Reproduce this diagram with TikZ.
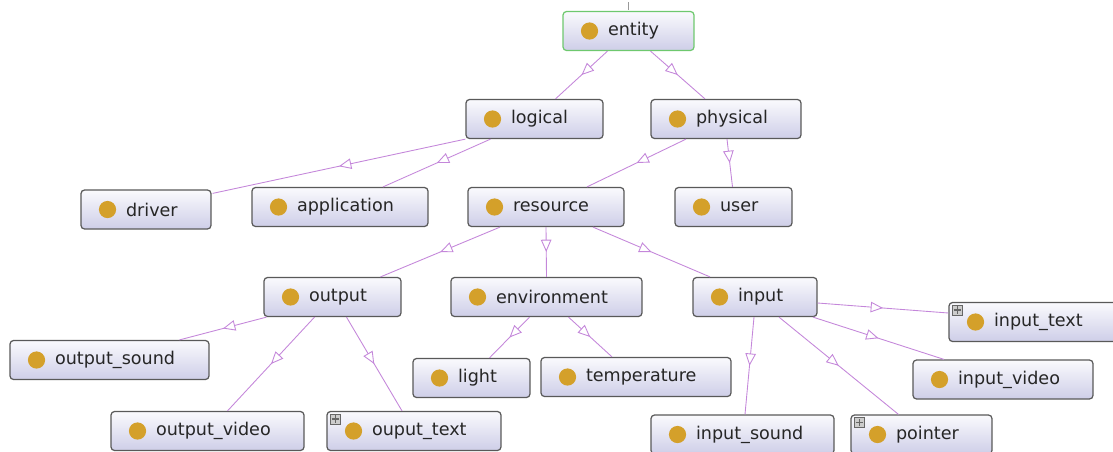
\documentclass[tikz,border=0pt]{standalone}
\usepackage{fontspec}
\setmainfont{DejaVu Sans}
\usetikzlibrary{arrows.meta, calc, decorations.markings}
\definecolor{dotc}{RGB}{212,160,42}
\definecolor{edgec}{RGB}{196,135,218}
\definecolor{boxtop}{RGB}{250,250,253}
\definecolor{boxbot}{RGB}{206,206,232}
\definecolor{entc}{RGB}{110,200,110}
\tikzset{cls/.style={rectangle,draw=black!65,line width=0.7pt,rounded corners=2pt,top color=boxtop,bottom color=boxbot,text width=#1,align=left,inner xsep=0.36cm,inner ysep=0pt,minimum height=0.78cm,text=black!85,execute at begin node=\hspace*{0.54cm},path picture={\fill[dotc] ([xshift=0.53cm]path picture bounding box.west) circle (4.9pt);}},plusbox/.style={rectangle,draw=black!60,fill=black!20,minimum size=0.2cm,inner sep=0pt,path picture={\draw[line width=0.8pt] ([xshift=-2.2pt]path picture bounding box.center) -- ([xshift=2.2pt]path picture bounding box.center); \draw[line width=0.8pt] ([yshift=-2.2pt]path picture bounding box.center) -- ([yshift=2.2pt]path picture bounding box.center);}},line/.style={draw=edgec,line width=0.5pt,postaction={decorate},decoration={markings,mark=at position 0.5 with {\arrow{Triangle[fill=white,length=7pt,width=6pt]}}}}}

\begin{document}
\begin{tikzpicture}[x=0.02cm,y=-0.02cm,font=\fontsize{10}{12}\selectfont]
\useasboundingbox (0,0) rectangle (1113,451);
\node[cls=1.90cm, draw=entc] (entity) at (628.5,31) {entity};
\node[cls=2.02cm] (logical) at (534.5,119) {logical};
\node[cls=2.28cm] (physical) at (726,119) {physical};
\node[cls=1.88cm] (driver) at (146,209.5) {driver};
\node[cls=2.80cm] (application) at (340,207) {application};
\node[cls=2.40cm] (resource) at (546,207) {resource};
\node[cls=1.62cm] (user) at (733.5,207) {user};
\node[cls=2.02cm] (output) at (332.5,297) {output};
\node[cls=3.10cm] (environment) at (546.5,297) {environment};
\node[cls=1.76cm] (input) at (755,297) {input};
\node[cls=3.26cm] (output_sound) at (109.5,360) {output\_sound};
\node[cls=1.62cm] (light) at (471.5,378) {light};
\node[cls=3.08cm] (temperature) at (636,377) {temperature};
\node[cls=2.68cm] (input_text) at (1034,322) {input\_text};
\node[cls=2.88cm] (input_video) at (1003,379.5) {input\_video};
\node[cls=3.14cm] (output_video) at (207.5,431) {output\_video};
\node[cls=2.76cm] (ouput_text) at (414,431) {ouput\_text};
\node[cls=2.94cm] (input_sound) at (742.5,434.5) {input\_sound};
\node[cls=2.10cm] (pointer) at (921.5,434.5) {pointer};
\node[plusbox] (ouput_text-x) at ($(ouput_text.north west)+(9,8)$) {};
\node[plusbox] (input_text-x) at ($(input_text.north west)+(9,8)$) {};
\node[plusbox] (pointer-x) at ($(pointer.north west)+(9,8)$) {};
\draw[black!40, line width=0.4pt] ($(entity.north)+(0,-1)$) -- ++(0,-8);
\draw[line] ($(entity.south)+(-21,0)$) -- ($(logical.north)+(21,0)$);
\draw[line] ($(entity.south)+(22,0)$) -- ($(physical.north)+(-21,0)$);
\draw[line] (logical.south west) -- ($(driver.north east)+(1,4)$);
\draw[line] ($(logical.south)+(-44,0)$) -- ($(application.north)+(43,0)$);
\draw[line] ($(physical.south)+(-40,0)$) -- ($(resource.north)+(41,0)$);
\draw[line] ($(physical.south)+(1,0)$) -- ($(user.north)+(-1,0)$);
\draw[line] ($(resource.south)+(-46,0)$) -- ($(output.north)+(48,0)$);
\draw[line] (resource.south) -- (environment.north);
\draw[line] ($(resource.south)+(47,0)$) -- ($(input.north)+(-45,0)$);
\draw[line] ($(output.south)+(-66,0)$) -- ($(output_sound.north)+(70,0)$);
\draw[line] ($(output.south)+(-18,0)$) -- ($(output_video.north)+(20,0)$);
\draw[line] ($(output.south)+(14,0)$) -- ($(ouput_text.north)+(-12,0)$);
\draw[line] ($(environment.south)+(-17,0)$) -- ($(light.north)+(18,0)$);
\draw[line] ($(environment.south)+(22,0)$) -- ($(temperature.north)+(-24,0)$);
\draw[line] ($(input.south)+(-1,0)$) -- ($(input_sound.north)+(2.5,0)$);
\draw[line] ($(input.south)+(24,0)$) -- ($(pointer.north)+(-23,0)$);
\draw[line] ($(input.south)+(58,0)$) -- ($(input_video.north)+(-59,0)$);
\draw[line] ($(input.east)+(0,6)$) -- ($(input_text.west)+(0,-9)$);
\end{tikzpicture}
\end{document}
